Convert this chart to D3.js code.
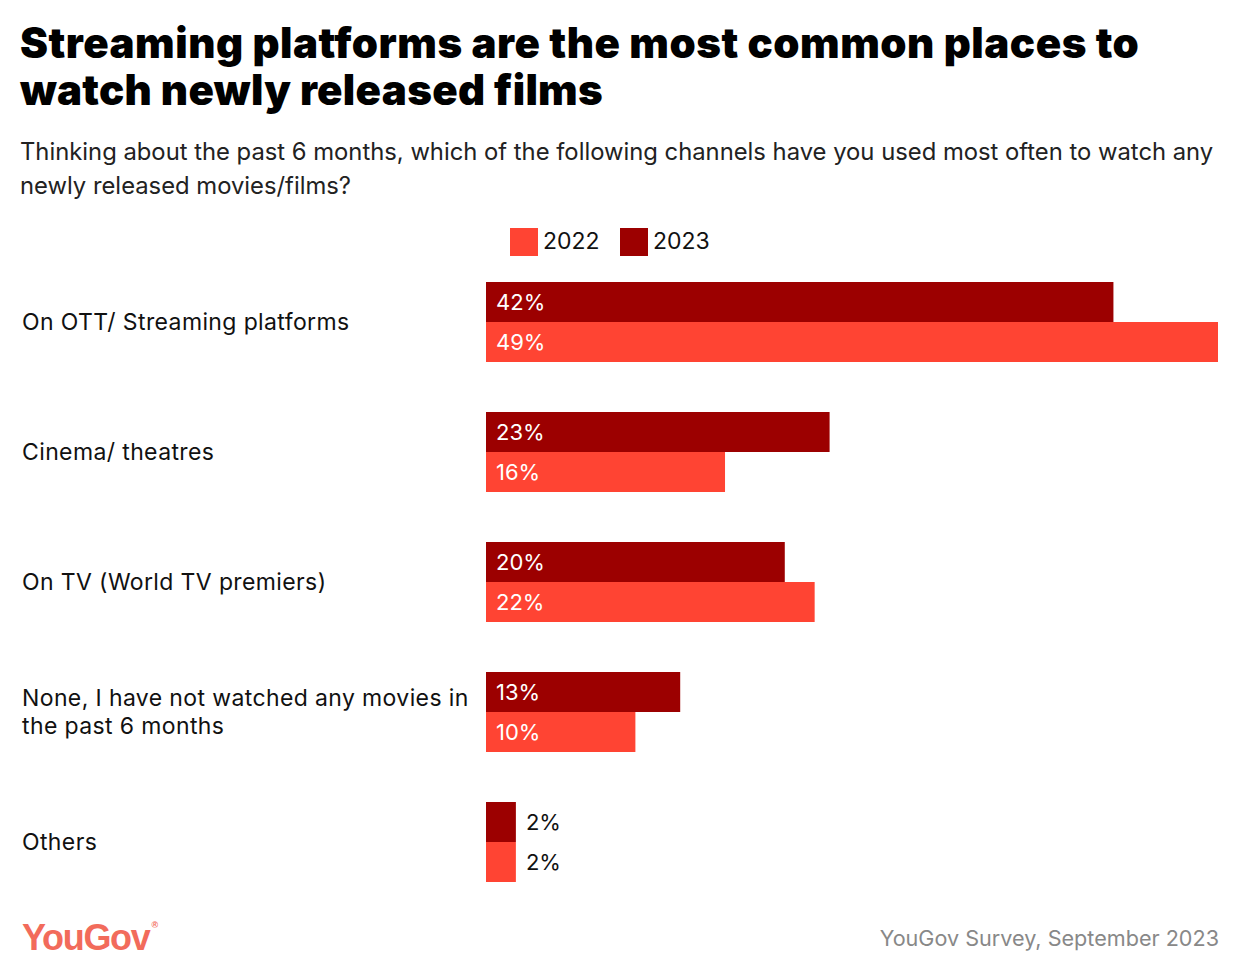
<!DOCTYPE html>
<html><head><meta charset="utf-8">
<script src="https://cdn.jsdelivr.net/npm/d3@7"></script>
<style>body{margin:0;background:#fff;}svg{display:block;}</style>
</head><body>
<script>
const categories = ["On OTT/ Streaming platforms","Cinema/ theatres","On TV (World TV premiers)","None, I have not watched any movies in the past 6 months","Others"];
const categoryLines = [["On OTT/ Streaming platforms"],["Cinema/ theatres"],["On TV (World TV premiers)"],["None, I have not watched any movies in","the past 6 months"],["Others"]];
const values2023 = [42,23,20,13,2];
const values2022 = [49,16,22,10,2];
const seriesNames = ["2022","2023"];
const colors = {"2022":"#ff4433","2023":"#9c0000"};

const W=1240,H=980;
const svg=d3.select("body").append("svg").attr("width",W).attr("height",H);
const font="Inter, 'Open Sans', sans-serif";

svg.append("text").attr("x",20).attr("y",58).attr("font-family",font).attr("font-weight",900).attr("font-size",42).attr("letter-spacing",0.5).attr("fill","#000").text("Streaming platforms are the most common places to");
svg.append("text").attr("x",20).attr("y",105).attr("font-family",font).attr("font-weight",900).attr("font-size",42).attr("letter-spacing",0.3).attr("fill","#000").text("watch newly released films");

svg.append("text").attr("x",20).attr("y",160).attr("font-family",font).attr("font-size",23.8).attr("fill","#222").text("Thinking about the past 6 months, which of the following channels have you used most often to watch any");
svg.append("text").attr("x",20).attr("y",194).attr("font-family",font).attr("font-size",23.8).attr("fill","#222").text("newly released movies/films?");

// legend
const leg=[{k:"2022",x:510},{k:"2023",x:620}];
leg.forEach(l=>{
  svg.append("rect").attr("x",l.x).attr("y",228).attr("width",28).attr("height",28).attr("fill",colors[l.k]);
  svg.append("text").attr("x",l.x+33).attr("y",249).attr("font-family",font).attr("font-size",23).attr("fill","#111").text(l.k);
});

const x=d3.scaleLinear().domain([0,49]).range([486,1218]);
const y=d3.scaleBand().domain(categories).range([282,282+130*5]).paddingInner(0).paddingOuter(0);
const sub=d3.scaleBand().domain(["2023","2022"]).range([0,80]);

const g=svg.append("g");
categories.forEach((c,i)=>{
  const y0=y(c);
  const rows=[{k:"2023",v:values2023[i]},{k:"2022",v:values2022[i]}];
  rows.forEach(r=>{
    const by=y0+sub(r.k);
    g.append("rect").attr("x",x(0)).attr("y",by).attr("width",x(r.v)-x(0)).attr("height",sub.bandwidth()).attr("fill",colors[r.k]);
    const inside=(x(r.v)-x(0))>60;
    g.append("text").attr("x",inside?x(0)+10:x(r.v)+10).attr("y",by+sub.bandwidth()/2).attr("dy","0.36em")
     .attr("font-family",font).attr("font-size",22).attr("fill",inside?"#fff":"#111").text(r.v+"%");
  });
  const lines=categoryLines[i];
  const cy=y0+40;
  lines.forEach((ln,j)=>{
    g.append("text").attr("x",22).attr("y",cy+(j-(lines.length-1)/2)*28).attr("dy","0.36em")
     .attr("font-family",font).attr("font-size",23).attr("letter-spacing",0.38).attr("fill","#111").text(ln);
  });
});

// footer
const logo=svg.append("text").attr("x",22).attr("y",950).attr("font-family","'Liberation Sans', Arial, sans-serif").attr("font-weight",700).attr("font-size",36).attr("letter-spacing",-1.3).attr("fill","#f26b5b");
logo.append("tspan").text("YouGov");
logo.append("tspan").attr("font-size",9).attr("dy",-22).attr("dx",2).attr("letter-spacing",0).text("®");
svg.append("text").attr("x",1219).attr("y",946).attr("text-anchor","end").attr("font-family",font).attr("font-size",21.6).attr("fill","#888").text("YouGov Survey, September 2023");
</script>
</body></html>
